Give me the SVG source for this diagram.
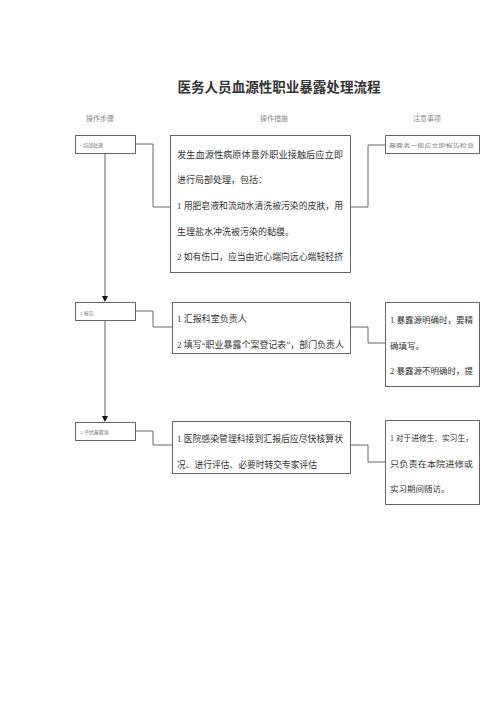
<svg xmlns="http://www.w3.org/2000/svg" width="500" height="707" viewBox="0 0 500 707">
<defs>
<marker id="arr" markerWidth="6" markerHeight="6" refX="5" refY="3" orient="auto" markerUnits="userSpaceOnUse">
<path d="M0,0 L6,3 L0,6 Z" fill="#111"/>
</marker>
<style>
.box{fill:#fff;stroke:#666;stroke-width:1}
.ln{fill:none;stroke:#666;stroke-width:1}
.t{font-family:"Liberation Serif","Noto Sans CJK SC",serif;fill:#333}
.m{font-size:9px}
.s{font-size:8.5px}
.tiny{font-size:5px;fill:#777}
.h{font-size:7px;fill:#888}
</style>
</defs>
<rect width="500" height="707" fill="#fff"/>
<text class="t" x="279" y="92" text-anchor="middle" font-size="13.5" font-weight="bold" fill="#222" textLength="203" lengthAdjust="spacingAndGlyphs">医务人员血源性职业暴露处理流程</text>
<g id="headers">
<text class="t h" x="100" y="121" text-anchor="middle">操作步骤</text>
<text class="t h" x="274" y="121" text-anchor="middle">操作措施</text>
<text class="t h" x="427" y="121" text-anchor="middle">注意事项</text>
</g>
<g id="connectors">
<line class="ln" x1="105" y1="154" x2="105" y2="301" stroke="#111" marker-end="url(#arr)"/>
<line class="ln" x1="105" y1="321" x2="105" y2="421" stroke="#111" marker-end="url(#arr)"/>
<polyline class="ln" points="136,144 153,144 153,207 170,207"/>
<polyline class="ln" points="350,207 368,207 368,145 385,145"/>
<polyline class="ln" points="136,311 153,311 153,327 172,327"/>
<polyline class="ln" points="350,327 368,327 368,343 385,343"/>
<polyline class="ln" points="136,431 153,431 153,445 172,445"/>
<polyline class="ln" points="350,445 368,445 368,462 385,462"/>
</g>
<g id="step1">
<rect class="box" x="75.5" y="135.5" width="60" height="18"/>
<text class="t tiny" x="80" y="146.5">• 局部处理</text>
</g>
<g id="measure1">
<rect class="box" x="170.5" y="135.5" width="180" height="137"/>
<text class="t m" x="177" y="158" textLength="166" lengthAdjust="spacingAndGlyphs">发生血源性病原体意外职业接触后应立即</text>
<text class="t m" x="177" y="183">进行局部处理，包括：</text>
<text class="t m" x="177" y="209" textLength="166" lengthAdjust="spacingAndGlyphs">1 用肥皂液和流动水清洗被污染的皮肤，用</text>
<text class="t m" x="177" y="235">生理盐水冲洗被污染的黏膜。</text>
<text class="t m" x="177" y="260" textLength="166" lengthAdjust="spacingAndGlyphs">2 如有伤口，应当由近心端向远心端轻轻挤</text>
</g>
<g id="note1">
<rect class="box" x="385.5" y="135.5" width="94" height="18"/>
<text class="t tiny" x="389" y="147" textLength="85" lengthAdjust="spacingAndGlyphs">暴露者一般应立即报告检查</text>
</g>
<g id="step2">
<rect class="box" x="75.5" y="302.5" width="60" height="18"/>
<text class="t tiny" x="80" y="314.5">2 报告</text>
</g>
<g id="measure2">
<rect class="box" x="172.5" y="302.5" width="178" height="51"/>
<text class="t m" x="177" y="322">1 汇报科室负责人</text>
<text class="t m" x="177" y="348" textLength="167" lengthAdjust="spacingAndGlyphs">2 填写“职业暴露个案登记表”，部门负责人</text>
</g>
<g id="note2">
<rect class="box" x="385.5" y="302.5" width="94" height="84"/>
<text class="t s" x="390" y="323" textLength="83" lengthAdjust="spacingAndGlyphs">1 暴露源明确时，要精</text>
<text class="t s" x="390" y="349">确填写。</text>
<text class="t s" x="390" y="374" textLength="83" lengthAdjust="spacingAndGlyphs">2 暴露源不明确时，提</text>
</g>
<g id="step3">
<rect class="box" x="75.5" y="422.5" width="60" height="18"/>
<text class="t tiny" x="80" y="434">3 评估暴露源</text>
</g>
<g id="measure3">
<rect class="box" x="172.5" y="421.5" width="178" height="52"/>
<text class="t m" x="177" y="442" textLength="166" lengthAdjust="spacingAndGlyphs">1 医院感染管理科接到汇报后应尽快核算状</text>
<text class="t m" x="177" y="468" textLength="140" lengthAdjust="spacingAndGlyphs">况、进行评估、必要时转交专家评估</text>
</g>
<g id="note3">
<rect class="box" x="385.5" y="420.5" width="94" height="84"/>
<text class="t s" x="390" y="441" textLength="83" lengthAdjust="spacingAndGlyphs">1 对于进修生、实习生，</text>
<text class="t s" x="390" y="467" textLength="83" lengthAdjust="spacingAndGlyphs">只负责在本院进修或</text>
<text class="t s" x="390" y="492">实习期间随访。</text>
</g>
</svg>
